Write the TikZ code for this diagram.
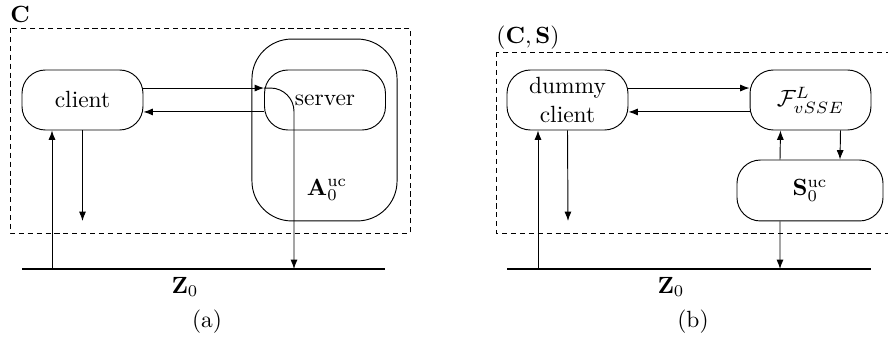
\documentclass[tikz,border=0pt]{standalone}
\usetikzlibrary{arrows.meta}
\begin{document}
\begin{tikzpicture}[x=0.4266pt,y=-0.4266pt,
  box/.style={draw,rounded corners=10pt,inner sep=0pt,minimum width=51.6pt,minimum height=25.6pt,align=center},
  arr/.style={-{Latex[length=4pt,width=3pt]}},
  frame/.style={draw,dash pattern=on 2.2pt off 1.6pt},
  ground/.style={line width=0.9pt}]
\useasboundingbox (0,0) rectangle (888,342);
\clip (0,0) rectangle (888,342);
% ---------- panel (a) ----------
\draw[frame] (10,28) rectangle (410,233);
\node (lC) at (20,14) {$\mathbf{C}$};
\node[draw,rounded corners=17pt,minimum width=61.9pt,minimum height=77.6pt] (A) at (324.5,130) {};
\node (lA) at (327,190) {$\mathbf{A}_0^{\mathrm{uc}}$};
\node[box] (client) at (82.5,100) {client};
\node[box] (server) at (325,100) {server};
\coordinate (za1) at (22,269);
\coordinate (za2) at (385,269);
\coordinate (zaIn) at (52,269);
\coordinate (zaOut) at (294,269);
\coordinate (cdown) at (82.5,221);
\draw[ground] (za1) -- (za2);
\node (lZa) at (185,287) {$\mathbf{Z}_0$};
\node (la) at (207,322) {(a)};
\draw[arr] ([yshift=5.1pt]client.east) -- ([yshift=5.1pt]server.west);
\draw[arr,rounded corners=10pt] ([yshift=5.1pt]server.west) -| (zaOut);
\draw[arr] ([yshift=-5.1pt]server.west) -- ([yshift=-5.1pt]client.east);
\draw[arr] (zaIn) -- (zaIn |- client.south);
\draw[arr] (client.south) -- (cdown);
% ---------- panel (b) ----------
\draw[frame] (496,52) rectangle (900,233);
\node (lCS) at (528,38) {$(\mathbf{C},\mathbf{S})$};
\node[box] (dummy) at (567.5,100) {dummy\\client};
\node[box] (F) at (810.5,100) {$\mathcal{F}^L_{vSSE}$};
\node[box,minimum width=62.3pt,minimum height=26pt] (S) at (810,190.5) {$\mathbf{S}_0^{\mathrm{uc}}$};
\coordinate (zb1) at (507,269);
\coordinate (zb2) at (871,269);
\coordinate (zbIn) at (538,269);
\coordinate (zbOut) at (780,269);
\coordinate (ddown) at (568,221);
\draw[ground] (zb1) -- (zb2);
\node (lZb) at (671,287) {$\mathbf{Z}_0$};
\node (lb) at (693,322) {(b)};
\draw[arr] ([yshift=5.1pt]dummy.east) -- ([yshift=5.1pt]F.west);
\draw[arr] ([yshift=-5.1pt]F.west) -- ([yshift=-5.1pt]dummy.east);
\draw[arr] ([xshift=-12.8pt]S.north) -- ([xshift=-12.8pt]F.south);
\draw[arr] ([xshift=12.8pt]F.south) -- ([xshift=12.8pt]S.north);
\draw[arr] ([xshift=-12.8pt]S.south) -- (zbOut);
\draw[arr] (zbIn) -- (zbIn |- dummy.south);
\draw[arr] (dummy.south) -- (ddown);
\end{tikzpicture}
\end{document}
